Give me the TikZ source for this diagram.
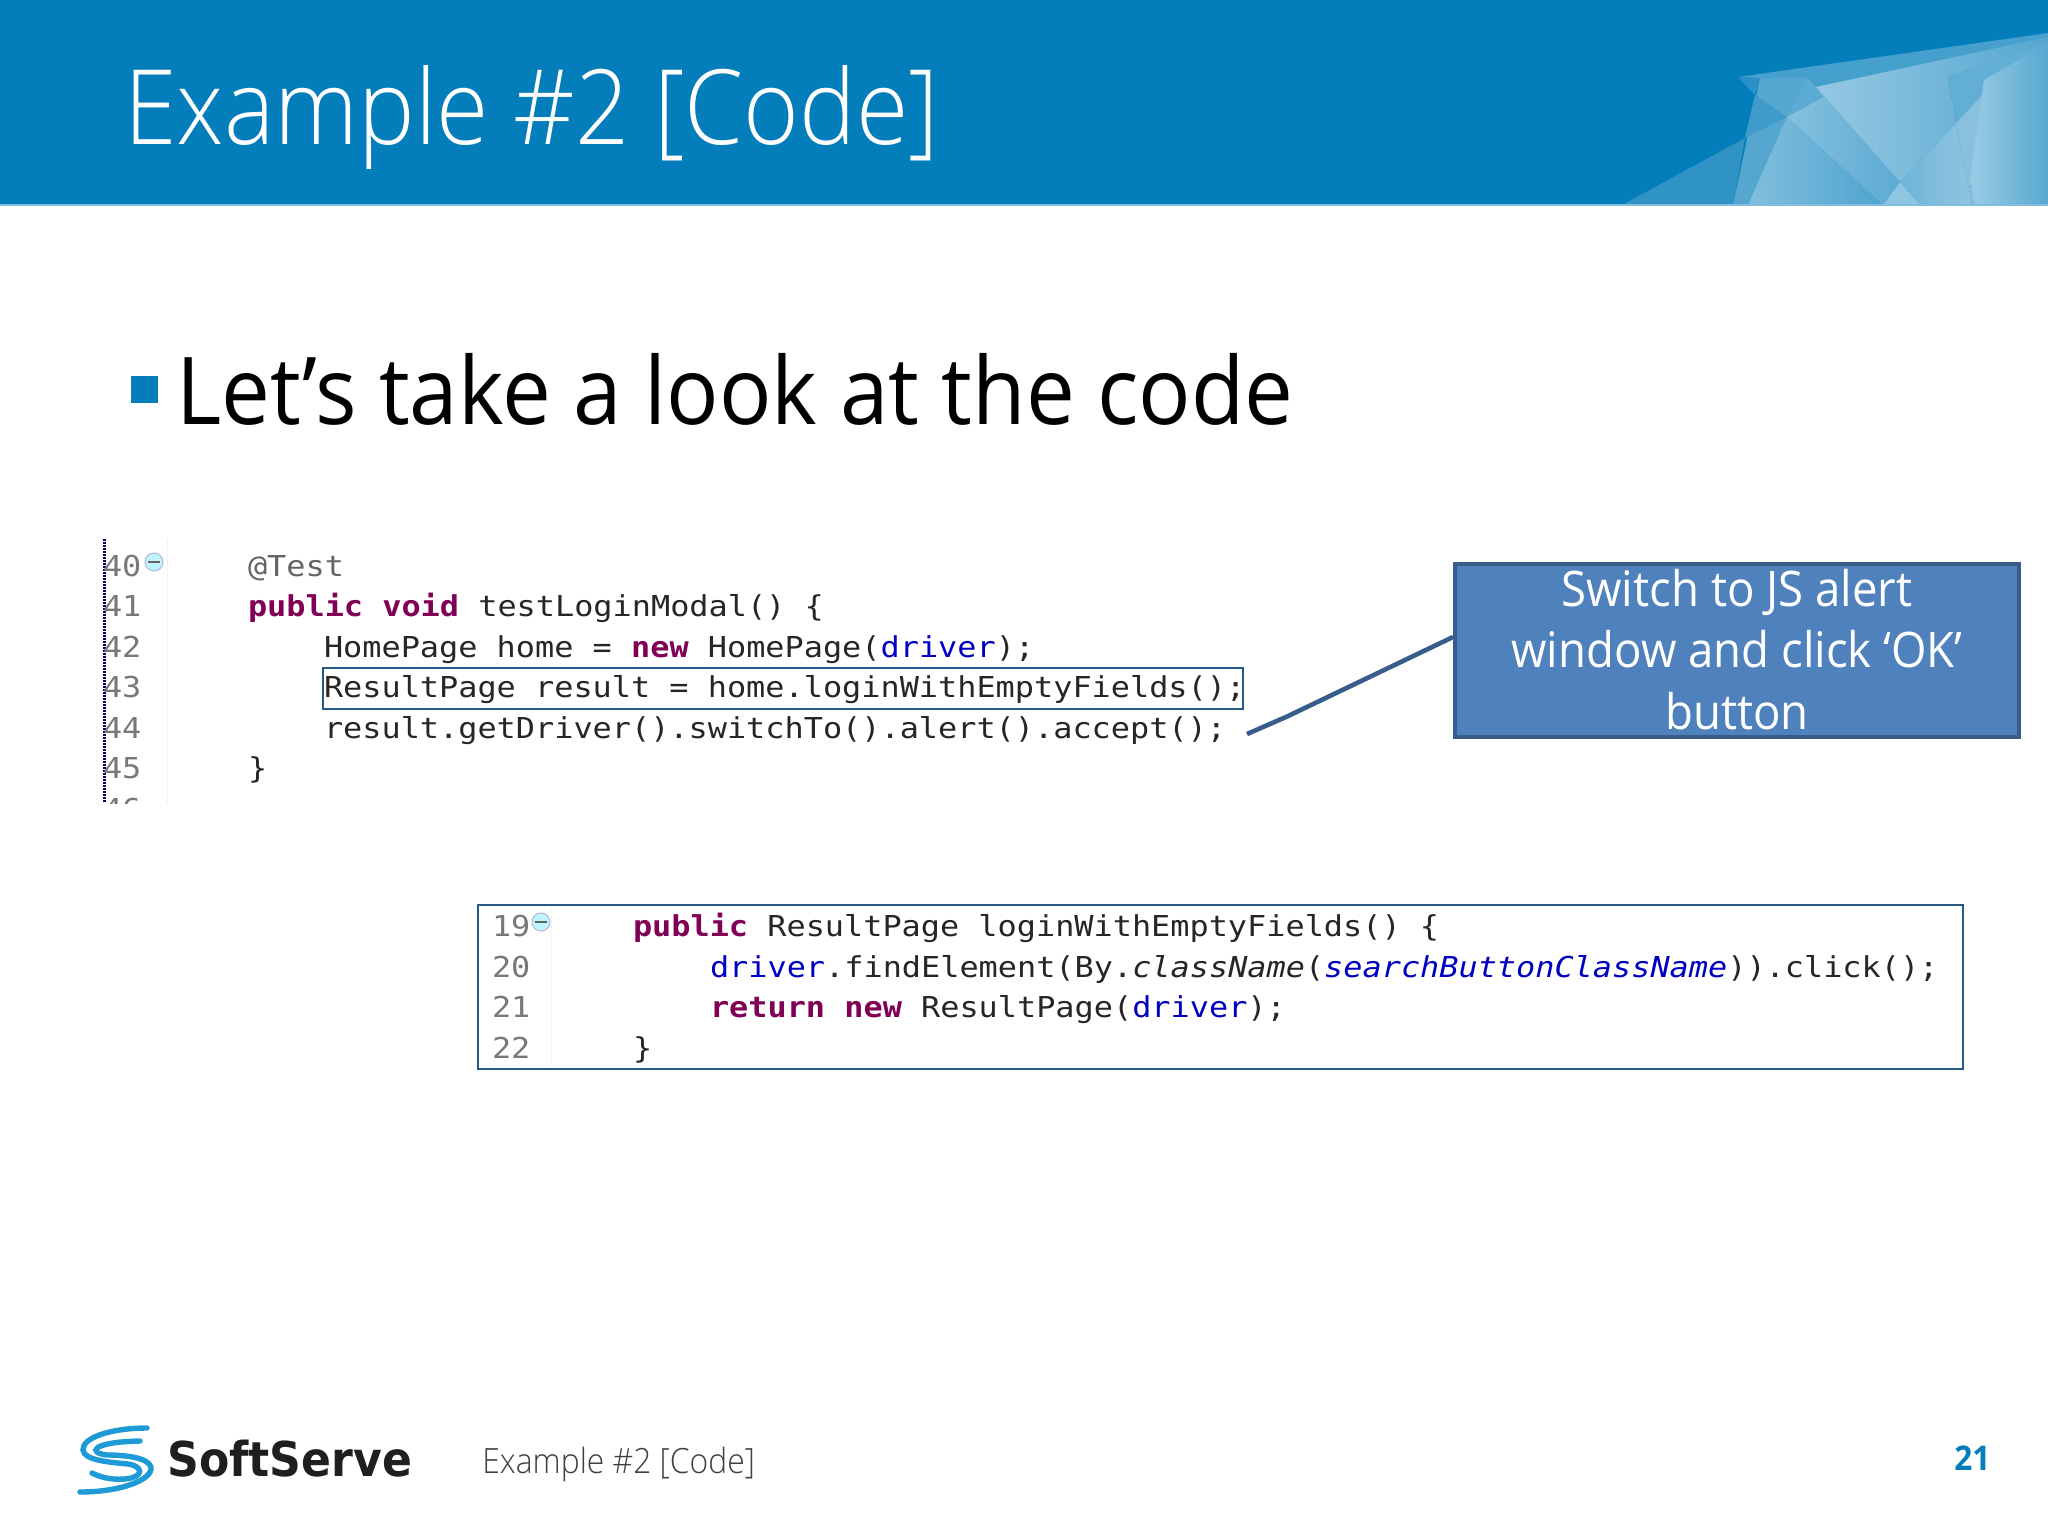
\documentclass[tikz,border=0pt]{standalone}
\usepackage{fontspec}
\setmainfont[FakeStretch=0.93]{Open Sans}
\newfontfamily\lightfont[FakeStretch=0.915]{Open Sans Light}
\setmonofont[FakeStretch=1.107]{DejaVu Sans Mono}
\newfontfamily\boldlogo[FakeStretch=0.92]{DejaVu Sans}
\definecolor{headblue}{HTML}{047DBB}
\definecolor{kw}{HTML}{7F0055}
\definecolor{fieldblue}{HTML}{0000C0}
\definecolor{numgray}{HTML}{787878}
\definecolor{annot}{HTML}{646464}
\definecolor{boxfill}{HTML}{4F81BD}
\definecolor{boxline}{HTML}{385D8A}
\definecolor{hl}{HTML}{245A85}
\definecolor{logoblue}{HTML}{1E9AD6}
\newcommand{\kwd}[1]{{\color{kw}\bfseries #1}}
\newcommand{\fld}[1]{{\color{fieldblue}#1}}
\tikzset{
  codeline/.style={anchor=base west,inner sep=0pt,outer sep=0pt,font=\ttfamily\fontsize{14.4}{16}\selectfont,text=black!85},
  lineno/.style={codeline,text=numgray},
  foldmark/.style={circle,minimum size=9pt,inner sep=0pt,fill=blue!15!cyan!25,draw=blue!30!gray!45,line width=0.5pt},
  swoosh/.style={draw=logoblue,line width=2.7pt,line cap=round},
  calltext/.style={anchor=base,inner sep=0pt,text=white,font=\fontsize{24.5}{28}\selectfont},
  grad/.style 2 args={left color=#1,right color=#2,draw=none}
}
\begin{document}
\begin{tikzpicture}[x=0.5pt,y=-0.5pt]
\useasboundingbox (0,0) rectangle (2048,1536);
\fill[white] (0,0) rectangle (2048,1536);
% header
\fill[headblue] (0,0) rectangle (2048,205);
\fill[fill={rgb,255:red,47;green,147;blue,198}] (1622,205) -- (1745,138) -- (1733,205) -- cycle;
\fill[fill={rgb,255:red,69;green,160;blue,205}] (1738,77) -- (2048,33) -- (2048,60) -- (1816,87) -- (1808,78) -- (1760,78) -- cycle;
\fill[fill={rgb,255:red,85;green,167;blue,208}] (1760,78) -- (1808,78) -- (1748,205) -- (1733,205) -- cycle;
\fill[fill={rgb,255:red,42;green,144;blue,197}] (1738,77) -- (1760,78) -- (1755,95) -- cycle;
\fill[fill={rgb,255:red,63;green,155;blue,203}] (1755,95) -- (1787,117) -- (1745,138) -- cycle;
\fill[fill={rgb,255:red,92;green,171;blue,210}] (1808,78) -- (1816,87) -- (1823,97) -- (1787,117) -- cycle;
\shade[grad={white!50!headblue}{white!30!headblue}] (1748,205) -- (1787,117) -- (1883,205) -- cycle;
\shade[grad={white!52!headblue}{white!35!headblue}] (1787,117) -- (1823,97) -- (1816,87) -- (1900,182) -- (1883,205) -- cycle;
\shade[grad={white!58!headblue}{white!32!headblue}] (1816,87) -- (2048,37) -- (2048,43) -- (1948,77) -- (1956,123) -- (1900,182) -- cycle;
\fill[white!55!headblue] (1900,182) -- (1883,205) -- (1920,205) -- cycle;
\shade[grad={white!43!headblue}{white!55!headblue}] (1900,182) -- (1956,123) -- (1972,205) -- (1920,205) -- cycle;
\fill[white!38!headblue] (1948,77) -- (2048,43) -- (1984,93) -- (1956,123) -- cycle;
\fill[white!52!headblue] (1956,123) -- (1984,93) -- (1970,177) -- (1974,205) -- (1972,205) -- cycle;
\shade[grad={white!60!headblue}{white!33!headblue}] (1984,80) -- (2048,43) -- (2048,205) -- (1974,205) -- (1970,177) -- cycle;
\fill[headblue!50!white] (0,204) rectangle (2048,206);
\node[anchor=base west,inner sep=0pt,text=white,font=\lightfont\fontsize{52}{60}\selectfont] (title) at (124,144) {Example \#2 [Code]};
% bullet
\node[fill=headblue,minimum size=13.5pt,inner sep=0pt,anchor=north west] (bullet) at (131,376) {};
\node[anchor=base west,inner sep=0pt,text=black,font=\fontsize{46.8}{54}\selectfont] (lead) at (176,424) {Let’s take a look at the code};
% first code block
\draw[black!5,line width=0.5pt] (167,539) -- (167,803);
\draw[blue!40!black,line width=1.5pt,dash pattern=on 1pt off 0.5pt] (104,539) -- (104,803);
\node[lineno] (n40) at (103,576) {40};
\node[lineno] (n41) at (103,616) {41};
\node[lineno] (n42) at (103,657) {42};
\node[lineno] (n43) at (103,697) {43};
\node[lineno] (n44) at (103,738) {44};
\node[lineno] (n45) at (103,778) {45};
\begin{scope}
\clip (90,795) rectangle (170,803);
\node[lineno] (n46) at (103,819) {46};
\end{scope}
\node[foldmark] (fold40) at (154,562) {};
\draw[annot,line width=0.7pt] (fold40.west) ++(3,0) -- ++(12,0);
\node[codeline,text=annot] (c40) at (248,576) {@Test};
\node[codeline] (c41) at (248,616) {\kwd{public} \kwd{void} testLoginModal() \{};
\node[codeline] (c42) at (324,657) {HomePage home = \kwd{new} HomePage(\fld{driver});};
\node[codeline] (c43) at (324,697) {ResultPage result = home.loginWithEmptyFields();};
\node[codeline] (c44) at (324,738) {result.getDriver().switchTo().alert().accept();};
\node[codeline] (c45) at (248,778) {\}};
\node[draw=hl,line width=1.2pt,minimum width=460pt,minimum height=20.5pt,inner sep=0pt,anchor=north west] (hlbox) at (322,667) {};
% second code block
\draw[black!5,line width=0.5pt] (551,908) -- (551,1066);
\node[lineno] (n19) at (492,936) {19};
\node[lineno] (n20) at (492,977) {20};
\node[lineno] (n21) at (492,1017) {21};
\node[lineno] (n22) at (492,1058) {22};
\node[foldmark] (fold19) at (541,922) {};
\draw[annot,line width=0.7pt] (fold19.west) ++(3,0) -- ++(12,0);
\node[codeline] (d19) at (633,936) {\kwd{public} ResultPage loginWithEmptyFields() \{};
\node[codeline] (d20) at (710,977) {\fld{driver}.findElement(By.\textit{className}(\fld{\textit{searchButtonClassName}})).click();};
\node[codeline] (d21) at (710,1017) {\kwd{return} \kwd{new} ResultPage(\fld{driver});};
\node[codeline] (d22) at (633,1058) {\}};
\node[draw=hl,line width=1.2pt,minimum width=742.5pt,minimum height=82pt,inner sep=0pt,anchor=north west] (methodbox) at (477,904) {};
% callout
\node[fill=boxfill,draw=boxline,line width=2pt,minimum width=282pt,minimum height=86.5pt,inner sep=0pt,anchor=north west] (callout) at (1453,562) {};
\node[calltext] (t1) at (1737,606) {Switch to JS alert};
\node[calltext] (t2) at (1737,667) {window and click ‘OK’};
\node[calltext] (t3) at (1737,729) {button};
\coordinate (cend) at (1247,734);
\coordinate (cbend) at (1286,717);
\draw[boxline,line width=2.3pt] (callout.west |- 0,637) -- (cbend) -- (cend);
% footer
\draw[swoosh] (147,1428) .. controls (110,1428) and (82,1438) .. (83,1450) .. controls (84,1460) and (107,1462) .. (128,1464) .. controls (143,1466) and (145,1477) .. (125,1479) .. controls (110,1480) and (100,1477) .. (92,1473);
\draw[swoosh] (80,1492) .. controls (120,1492) and (153,1480) .. (151,1467) .. controls (148,1457) and (123,1455) .. (107,1455) .. controls (88,1453) and (90,1442) .. (140,1441);
\node[anchor=base west,inner sep=0pt,text=black!88,font=\boldlogo\bfseries\fontsize{24}{28}\selectfont] (logo) at (167,1476) {SoftServe};
\node[anchor=base west,inner sep=0pt,text=black!75,font=\lightfont\fontsize{17.4}{20}\selectfont] (foot) at (482,1473) {Example \#2 [Code]};
\node[anchor=base west,inner sep=0pt,text=headblue,font=\bfseries\fontsize{17}{20}\selectfont] (pageno) at (1954,1470) {21};
\end{tikzpicture}
\end{document}
